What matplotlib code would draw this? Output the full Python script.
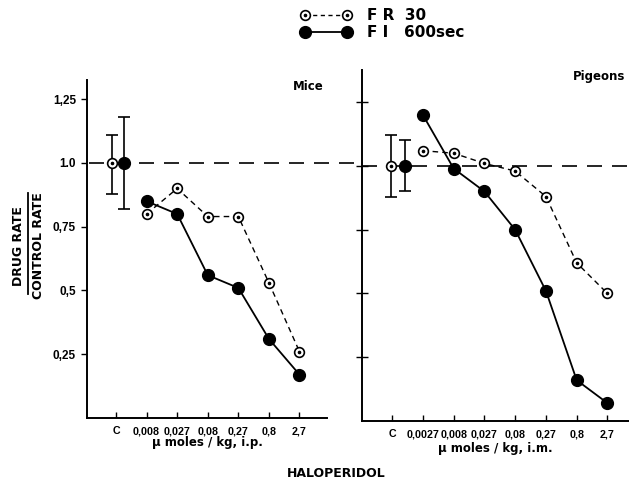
import matplotlib
matplotlib.use("Agg")
import matplotlib.pyplot as plt
from matplotlib.lines import Line2D
from matplotlib.legend_handler import HandlerTuple

# ---- data ----
mice_doses = ["0,008", "0,027", "0,08", "0,27", "0,8", "2,7"]
mice_fr30 = [0.80, 0.90, 0.79, 0.79, 0.53, 0.26]
mice_fi600 = [0.85, 0.80, 0.56, 0.51, 0.31, 0.17]
mice_ctrl_fr30_err = (0.12, 0.11)   # (lower, upper)
mice_ctrl_fi600_err = (0.18, 0.18)

pig_doses = ["0,0027", "0,008", "0,027", "0,08", "0,27", "0,8", "2,7"]
pig_fr30 = [1.06, 1.05, 1.01, 0.98, 0.88, 0.62, 0.50]
pig_fi600 = [1.20, 0.99, 0.90, 0.75, 0.51, 0.16, 0.07]
pig_ctrl_fr30_err = (0.12, 0.12)
pig_ctrl_fi600_err = (0.10, 0.10)

control_value = 1.0
yticks = [0.25, 0.5, 0.75, 1.0, 1.25]
ytick_labels = ["0,25", "0,5", "0,75", "1.0", "1,25"]

plt.rcParams['font.family'] = ['DejaVu Sans']
plt.rcParams['font.weight'] = 'bold'
TICKFONT = ['Liberation Sans', 'DejaVu Sans']

fig = plt.figure(figsize=(6.29, 4.82), dpi=100)
axL = fig.add_axes([0.1383, 0.1328, 0.3816, 0.701])
axR = fig.add_axes([0.5755, 0.1266, 0.4245, 0.728])

OPEN_MS = 7.0
FILL_MS = 8.5


def open_markers(ax, x, y, ls='none', **kw):
    ax.plot(x, y, ls=ls, color='black', marker='o', ms=OPEN_MS,
            mfc='white', mec='black', mew=1.2, zorder=4, **kw)
    ax.plot(x, y, ls='none', marker='o', ms=1.6, color='black', zorder=5)


def panel(ax, doses, fr30, fi600, err_fr, err_fi, off_fr, off_fi, xlim, ylim,
          title, xlabel, labels_on, xlabelpad):
    xs = list(range(1, len(doses) + 1))
    ax.errorbar([off_fr], [control_value], yerr=[[err_fr[0]], [err_fr[1]]],
                fmt='none', ecolor='black', elinewidth=1.2, capsize=4,
                capthick=1.2, zorder=3)
    ax.errorbar([off_fi], [control_value], yerr=[[err_fi[0]], [err_fi[1]]],
                fmt='none', ecolor='black', elinewidth=1.2, capsize=4,
                capthick=1.2, zorder=3)
    open_markers(ax, [off_fr], [control_value])
    ax.plot([off_fi], [control_value], 'o', color='black', ms=FILL_MS, zorder=4)
    ax.plot(xs, fr30, color='black', lw=1.0, dashes=(4, 3), zorder=2)
    open_markers(ax, xs, fr30)
    ax.plot(xs, fi600, color='black', lw=1.3, marker='o', ms=FILL_MS, zorder=3)

    ax.set_xlim(*xlim)
    ax.set_ylim(*ylim)
    ax.set_xticks([0] + xs)
    ax.set_xticklabels(["C"] + doses, fontsize=7.7, fontweight='bold',
                       family=TICKFONT)
    ax.tick_params(axis='x', direction='in', length=4, width=1.0, pad=6)
    for s in ['top', 'right']:
        ax.spines[s].set_visible(False)
    for s in ['left', 'bottom']:
        ax.spines[s].set_linewidth(1.4)
    ax.set_yticks(yticks)
    if labels_on:
        ax.set_yticklabels(ytick_labels, fontsize=8.5, fontweight='bold',
                           family=TICKFONT)
        ax.tick_params(axis='y', direction='out', length=4, width=1.0, pad=4)
    else:
        ax.set_yticklabels([])
        ax.tick_params(axis='y', direction='inout', length=8, width=1.0)
    ax.set_xlabel(xlabel, fontsize=8.5, fontweight='bold', labelpad=xlabelpad)
    ax.text(0.985, 1.0, title, transform=ax.transAxes, ha='right', va='top',
            fontsize=8.5, fontweight='bold')


panel(axL, mice_doses, mice_fr30, mice_fi600, mice_ctrl_fr30_err,
      mice_ctrl_fi600_err, -0.13, 0.26, (-0.95, 6.9), (0, 1.325),
      "Mice", "\u03bc moles / kg, i.p.", True, 0)
panel(axR, pig_doses, pig_fr30, pig_fi600, pig_ctrl_fr30_err,
      pig_ctrl_fi600_err, -0.03, 0.42, (-0.98, 7.7), (0, 1.376),
      "Pigeons", "\u03bc moles / kg, i.m.", False, 2)

# reference line at control level, continuous across both panels
axL.axhline(control_value, xmin=0.01, xmax=1.15, color='black', lw=1.2,
            dashes=(9, 6), clip_on=False, zorder=1)
axR.axhline(control_value, xmin=0.0, xmax=1.0, color='black', lw=1.2,
            dashes=(9, 6), zorder=1)

# y label as a fraction
fig.text(0.029, 0.49, "DRUG RATE", rotation=90, ha='center', va='center',
         fontsize=9, fontweight='bold')
fig.text(0.061, 0.49, "CONTROL RATE", rotation=90, ha='center', va='center',
         fontsize=9, fontweight='bold')
fig.add_artist(Line2D([0.045, 0.045], [0.39, 0.60], color='black', lw=1.3,
                      transform=fig.transFigure))

fig.text(0.535, 0.004, "HALOPERIDOL", ha='center', va='bottom', fontsize=9,
         fontweight='bold')

# legend
h_open = Line2D([], [], color='black', lw=1.0, dashes=(3, 2.5), marker='o',
                ms=OPEN_MS, mfc='white', mec='black', mew=1.2)
h_dot = Line2D([], [], ls='none', marker='o', ms=1.6, color='black')
h_fill = Line2D([], [], color='black', lw=1.3, marker='o', ms=FILL_MS)
fig.legend([(h_open, h_dot), h_fill], ["F R  30", "F I   600sec"],
           handler_map={tuple: HandlerTuple(ndivide=1)},
           loc='upper left', bbox_to_anchor=(0.455, 1.012), frameon=False,
           numpoints=2, handlelength=3.4, handletextpad=1.0, labelspacing=0.15,
           prop={'size': 11, 'weight': 'bold'})

fig.savefig("out.png", dpi=100)
